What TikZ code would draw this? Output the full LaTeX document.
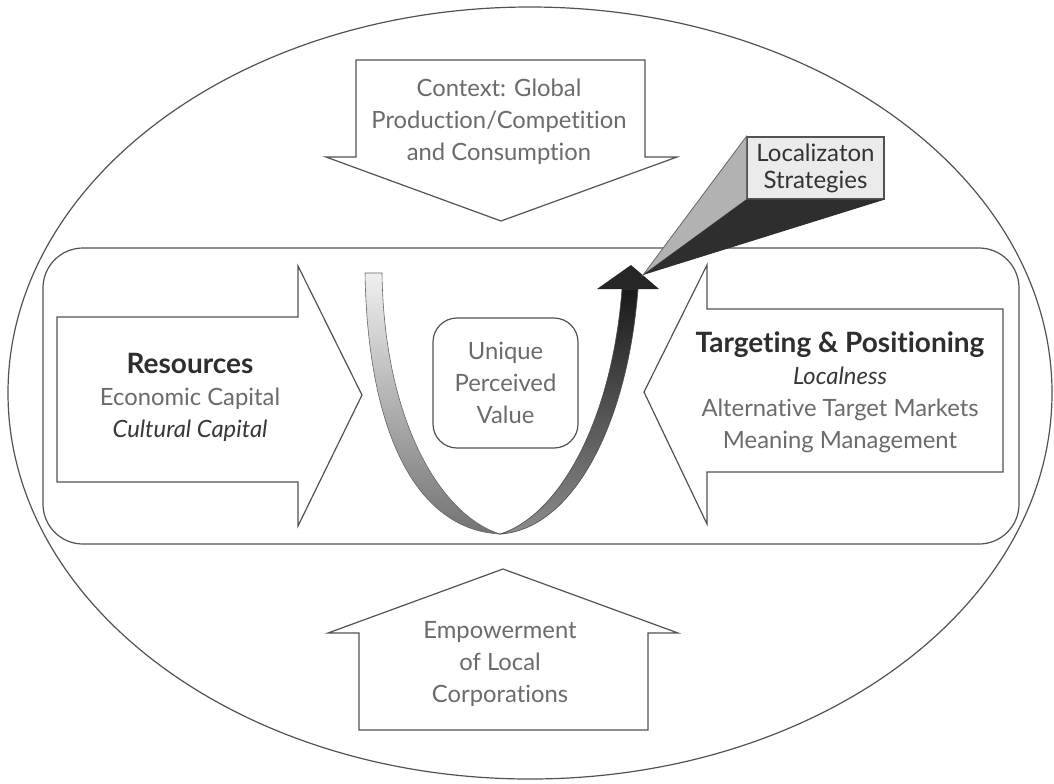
\documentclass[tikz,border=0pt]{standalone}
\usepackage{fontspec}
\setmainfont{Lato}[Ligatures=NoCommon]
\usepackage{xcolor}
\usepackage{tikz}
\usetikzlibrary{positioning}
\newcommand{\hd}{\bfseries\fontsize{14}{18}\selectfont\color{black!82}}
\newcommand{\emtxt}{\itshape\color{black!78}}
\tikzset{
  frame/.style={draw=black!68, line width=0.6pt},
  blockarrow/.style={frame, fill=white, line join=miter},
  txt/.style={align=center, text=black!58, font=\fontsize{11.9}{16}\selectfont},
  valbox/.style={txt, frame, rounded corners=12pt, minimum width=72.5pt, minimum height=65pt},
  locbox/.style={frame, fill=black!8, align=center, text=black!80, font=\fontsize{12}{13.5}\selectfont, minimum width=68.5pt, minimum height=31pt, inner sep=1pt}
}

\begin{document}
\begin{tikzpicture}[x=0.5pt, y=-0.5pt]
  \useasboundingbox (0,0) rectangle (1054,783);
  \draw[frame] (530,393) ellipse [x radius=522, y radius=386];
  \draw[frame, rounded corners=20pt] (43,248) rectangle (1019,544);

  \draw[blockarrow] (356,60) -- (645,60) -- (645,157) -- (677,157) -- (501,221) -- (326,157) -- (356,157) -- cycle;
  \draw[blockarrow] (359,730) -- (648,730) -- (648,633) -- (678,633) -- (503,569) -- (328,633) -- (359,633) -- cycle;
  \draw[blockarrow] (57,317) -- (298,317) -- (298,266) -- (362,395) -- (298,526) -- (298,482) -- (57,482) -- cycle;
  \draw[blockarrow] (1003,309) -- (707,309) -- (707,265) -- (644,392) -- (707,524) -- (707,472) -- (1003,472) -- cycle;

  \node (Context) [txt] at (499,122) {Context: Global\\Production/Competition\\and Consumption};
  \node (Empower) [txt] at (500,664) {Empowerment\\of Local\\Corporations};
  \node (Res) [txt] at (190,397) {{\hd Resources}\\Economic Capital\\{\emtxt Cultural Capital}};
  \node (Target) [txt] at (840,392) {{\hd Targeting \& Positioning}\\{\emtxt Localness}\\Alternative Target Markets\\Meaning Management};
  \node (UPV) [valbox] at (505.5,383) {Unique\\Perceived\\Value};

  \shade[top color=black!6, bottom color=black!55, draw=black!60, line width=0.3pt]
    (365,273) .. controls (368,440) and (420,530) .. (500,534)
    .. controls (440,515) and (384,420) .. (382,273) -- cycle;
  \shade[top color=black!90, bottom color=black!45, draw=black!70, line width=0.3pt]
    (500,534) .. controls (570,530) and (627,430) .. (638,289)
    -- (622,289) .. controls (612,420) and (560,515) .. (500,534) -- cycle;
  \fill[black!85] (597,289) -- (659,289) -- (631,265) -- cycle;

  \node (LocStr) [locbox] at (815.5,168) {Localizaton\\Strategies};
  \coordinate (tipL) at (643,275);
  \filldraw[fill=black!30, draw=black!60, line width=0.4pt] (LocStr.north west) -- (LocStr.south west) -- (tipL) -- cycle;
  \fill[black!82] (LocStr.south west) -- (LocStr.south east) -- (tipL) -- cycle;
\end{tikzpicture}
\end{document}
